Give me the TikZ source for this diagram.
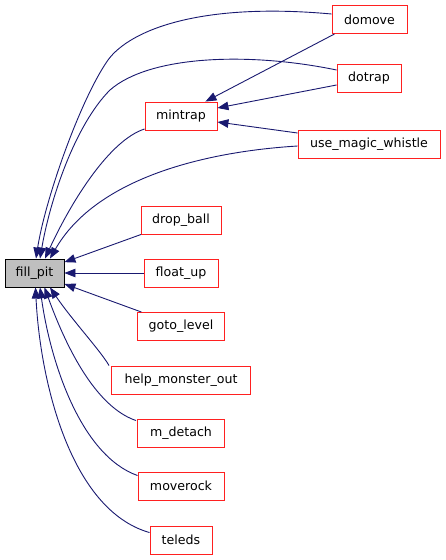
\documentclass[tikz,border=0pt]{standalone}
\usepackage{fontspec}
\setmainfont{DejaVu Sans}
\usetikzlibrary{arrows.meta}
\definecolor{edgecol}{HTML}{191970}
\definecolor{boxred}{HTML}{FF2020}
\definecolor{boxgray}{HTML}{BFBFBF}
\tikzset{
  fn/.style={draw=boxred, line width=0.9pt, fill=white, minimum height=28pt, inner sep=0pt,
    font=\fontsize{12.6}{14}\selectfont, text=black, anchor=center},
  mainfn/.style={fn, draw=black, fill=boxgray},
  call/.style={draw=edgecol, line width=0.9pt, -{Triangle[length=11pt,width=8.5pt]}, edgecol},
}
\begin{document}
\begin{tikzpicture}[x=1pt,y=-1pt]
\useasboundingbox (0,0) rectangle (445,560);
\node[mainfn, minimum width=59pt] (fill) at (34.5,273) {fill\_pit};
\node[fn, minimum width=75pt] (domove) at (369.5,19.5) {domove};
\node[fn, minimum width=64pt] (dotrap) at (369,78.5) {dotrap};
\node[fn, minimum width=72pt] (mintrap) at (181,116) {mintrap};
\node[fn, minimum width=142pt] (umw) at (369,144) {use\_magic\_whistle};
\node[fn, minimum width=80pt] (drop) at (181,220) {drop\_ball};
\node[fn, minimum width=74pt] (float) at (181,273) {float\_up};
\node[fn, minimum width=87pt] (goto) at (181,326.5) {goto\_level};
\node[fn, minimum width=139pt] (help) at (181,380) {help\_monster\_out};
\node[fn, minimum width=87pt] (mdet) at (181,433) {m\_detach};
\node[fn, minimum width=86pt] (rock) at (181,486) {moverock};
\node[fn, minimum width=62pt] (tele) at (181,540) {teleds};

% edges into mintrap
\draw[call] ([xshift=3pt]domove.south west) -- ([xshift=-12pt]mintrap.north east);
\draw[call] ([yshift=-6.5pt]dotrap.west) -- ([yshift=8pt]mintrap.east);
\draw[call] ([yshift=11pt]umw.west) -- ([yshift=-6pt]mintrap.east);

% edges into fill_pit (upper)
\draw[call] ([yshift=5.5pt]domove.west) .. controls (200,2) and (130,30) .. (108,60)
  .. controls (80,100) and (45,200) .. ([xshift=1.5pt]fill.north);
\draw[call] ([yshift=8.5pt]dotrap.west) .. controls (250,52) and (150,55) .. (110,90)
  .. controls (75,125) and (50,200) .. ([xshift=5.5pt]fill.north);
\draw[call] ([yshift=-13pt]mintrap.west) .. controls (110,140) and (72,200) .. ([xshift=10.5pt]fill.north);
\draw[call] ([yshift=-2pt]umw.west) .. controls (200,152) and (95,180) .. ([xshift=15.5pt]fill.north);
\draw[call] (drop) -- (fill);
\draw[call] (float) -- (fill);
\draw[call] (goto) -- (fill);

% edges into fill_pit (lower)
\draw[call] ([xshift=-2pt]help.north west) .. controls (100,350) and (72,320) .. ([xshift=15.5pt]fill.south);
\draw[call] ([xshift=-1pt,yshift=-2pt]mdet.north west) .. controls (90,405) and (60,330) .. ([xshift=10pt]fill.south);
\draw[call] ([yshift=-4pt]rock.north west) .. controls (80,455) and (50,360) .. ([xshift=5.5pt]fill.south);
\draw[call] ([yshift=-7pt]tele.north west) .. controls (70,510) and (40,380) .. ([xshift=1pt]fill.south);
\end{tikzpicture}
\end{document}
